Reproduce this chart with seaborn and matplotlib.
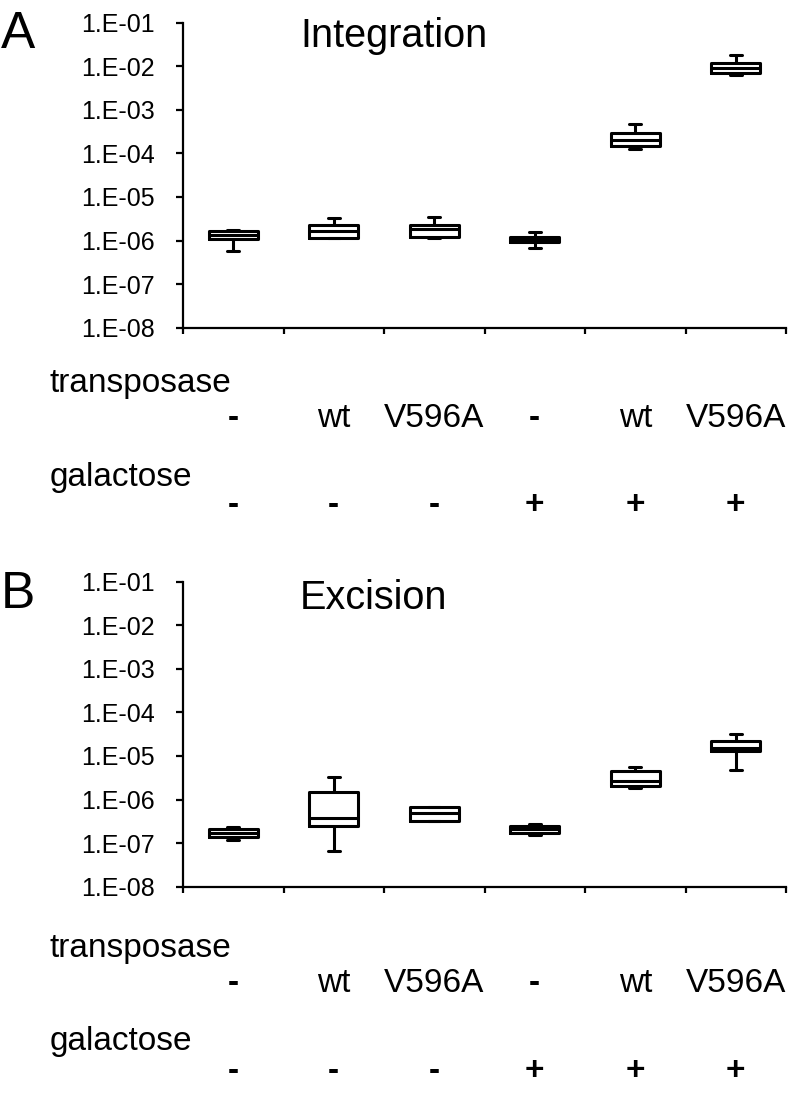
import numpy as np
import pandas as pd
import matplotlib
matplotlib.use("Agg")
import matplotlib.pyplot as plt
import matplotlib.transforms as mtransforms
from matplotlib.ticker import FixedLocator, NullLocator, FuncFormatter
import seaborn as sns

FIG_W, FIG_H = 801, 1098

# sample conditions (one box each)
transposase = ["-", "wt", "V596A", "-", "wt", "V596A"]
galactose = ["-", "-", "-", "+", "+", "+"]

# panel A, integration frequency: whisker low, q1, median, q3, whisker high
int_low = [5.75e-7, 1.13e-6, 1.15e-6, 6.86e-7, 1.26e-4, 6.2e-3]
int_q1 = [1.09e-6, 1.16e-6, 1.23e-6, 9.4e-7, 1.48e-4, 6.9e-3]
int_med = [1.34e-6, 1.68e-6, 1.81e-6, 1.07e-6, 2.0e-4, 9.3e-3]
int_q3 = [1.68e-6, 2.28e-6, 2.28e-6, 1.23e-6, 2.9e-4, 1.21e-2]
int_high = [1.75e-6, 3.24e-6, 3.47e-6, 1.55e-6, 4.66e-4, 1.79e-2]

# panel B, excision frequency
exc_low = [1.18e-7, 6.7e-8, 3.22e-7, 1.51e-7, 1.84e-6, 4.77e-6]
exc_q1 = [1.36e-7, 2.51e-7, 3.22e-7, 1.68e-7, 2.05e-6, 1.30e-5]
exc_med = [1.73e-7, 3.83e-7, 4.83e-7, 2.07e-7, 2.67e-6, 1.55e-5]
exc_q3 = [2.11e-7, 1.51e-6, 6.75e-7, 2.51e-7, 4.59e-6, 2.24e-5]
exc_high = [2.38e-7, 3.30e-6, 6.75e-7, 2.75e-7, 5.5e-6, 3.24e-5]

decades = [1e-8, 1e-7, 1e-6, 1e-5, 1e-4, 1e-3, 1e-2, 1e-1]


def make_frame(*cols):
    """ 5-number summary -> long table, one box per condition """
    rows = []
    for i, vals in enumerate(zip(*cols)):
        for v in vals:
            rows.append({"group": f"{transposase[i]}/{galactose[i]}", "value": v})
    return pd.DataFrame(rows)


def fy(px):
    # pixel row (from top) -> figure fraction
    return 1 - px / FIG_H


def draw_panel(fig, ax, df, letter, title, ys):
    sns.boxplot(data=df, x="group", y="value", ax=ax, log_scale=True,
                whis=(0, 100), width=0.49, fill=False, color="black",
                linewidth=2.2, capwidths=0.12, showfliers=False)
    ax.set_ylim(1e-8, 1e-1)
    ax.yaxis.set_major_locator(FixedLocator(decades))
    ax.yaxis.set_minor_locator(NullLocator())
    ax.yaxis.set_major_formatter(
        FuncFormatter(lambda v, p: f"1.E-{int(round(-np.log10(v))):02d}"))
    ax.set_xlim(-0.5, 5.5)
    ax.set_xticks(np.arange(-0.5, 6, 1))
    ax.set_xticklabels([])
    ax.set_xlabel("")
    ax.set_ylabel("")
    sns.despine(ax=ax)
    for s in ["left", "bottom"]:
        ax.spines[s].set_linewidth(1.6)
        ax.spines[s].set_color("black")
    ax.tick_params(axis="y", direction="out", length=5, width=1.6,
                   labelsize=18, pad=15, colors="black")
    ax.tick_params(axis="x", direction="out", length=4.5, width=1.6,
                   colors="black")
    ax.grid(False)

    fig.text(1 / FIG_W, fy(ys["letter"]), letter, fontsize=37, va="baseline")
    fig.text(300 / FIG_W, fy(ys["title"]), title, fontsize=28.5, va="baseline")

    # condition rows under the axis
    blend = mtransforms.blended_transform_factory(ax.transData, fig.transFigure)
    fig.text(50 / FIG_W, fy(ys["tp_label"]), "transposase", fontsize=24, va="baseline")
    fig.text(50 / FIG_W, fy(ys["gal_label"]), "galactose", fontsize=24, va="baseline")
    for i, lab in enumerate(transposase):
        ax.text(i, fy(ys["tp_row"]), lab, transform=blend, ha="center",
                va="baseline", fontsize=24,
                fontweight="bold" if lab in ("-", "+") else "normal")
    for i, lab in enumerate(galactose):
        ax.text(i, fy(ys["gal_row"]), lab, transform=blend, ha="center",
                va="baseline", fontsize=24, fontweight="bold")


def main():
    sns.set_style("ticks")
    plt.rcParams["font.family"] = ["Liberation Sans", "DejaVu Sans"]
    plt.rcParams["text.color"] = "black"
    plt.rcParams["axes.edgecolor"] = "black"
    plt.rcParams["xtick.color"] = "black"
    plt.rcParams["ytick.color"] = "black"

    fig = plt.figure(figsize=(FIG_W / 100, FIG_H / 100), dpi=100)
    left = 183 / FIG_W
    width = (786 - 183) / FIG_W
    height = 305 / FIG_H
    ax_a = fig.add_axes([left, fy(327.7), width, height])
    ax_b = fig.add_axes([left, fy(886.7), width, height])

    df_int = make_frame(int_low, int_q1, int_med, int_q3, int_high)
    df_exc = make_frame(exc_low, exc_q1, exc_med, exc_q3, exc_high)

    draw_panel(fig, ax_a, df_int, "A", "Integration",
               {"letter": 48, "title": 46.7, "tp_label": 392, "tp_row": 427,
                "gal_label": 486, "gal_row": 514})
    draw_panel(fig, ax_b, df_exc, "B", "Excision",
               {"letter": 608, "title": 609, "tp_label": 957, "tp_row": 992,
                "gal_label": 1050, "gal_row": 1080})

    fig.savefig("out.png", dpi=100)


if __name__ == "__main__":
    main()
